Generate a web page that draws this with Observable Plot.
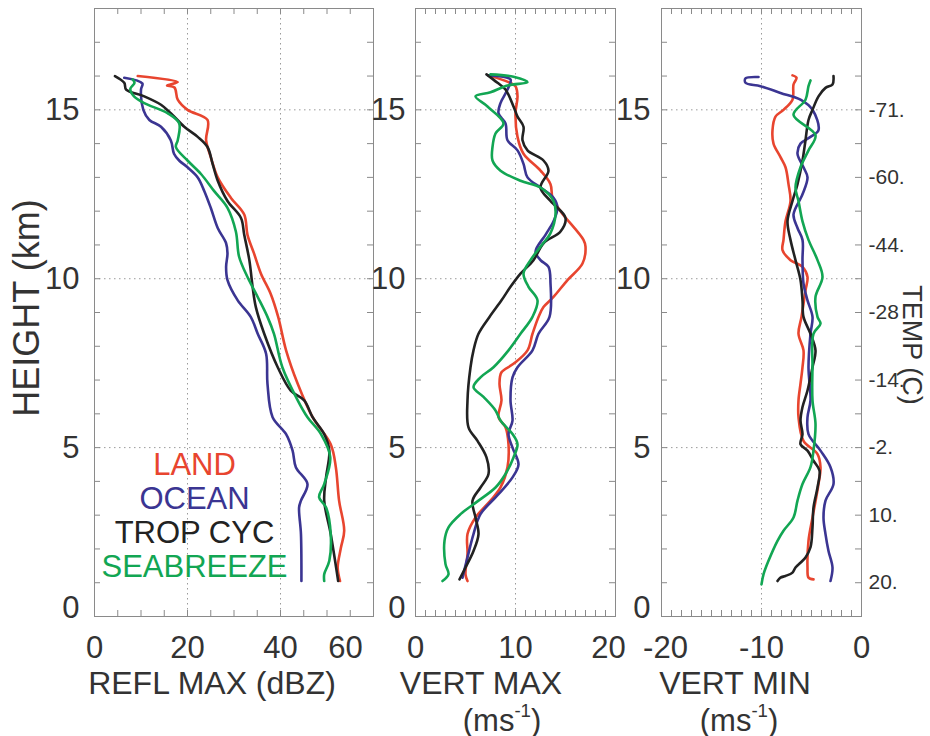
<!DOCTYPE html>
<html>
<head>
<meta charset="utf-8">
<script src="https://cdn.jsdelivr.net/npm/d3@7"></script>
<script src="https://cdn.jsdelivr.net/npm/@observablehq/plot@0.6"></script>
<style>
  html, body { margin: 0; padding: 0; background: #fff; }
  #fig { position: relative; width: 930px; height: 736px; overflow: hidden;
         font-family: "Liberation Sans", Arial, sans-serif; color: #333; }
  #fig svg { position: absolute; top: 0; }
  .lbl { position: absolute; white-space: nowrap; line-height: 1;
         transform: translate(-50%, -50%); }
  .sup { font-size: 0.6em; position: relative; top: -0.75em; }
</style>
</head>
<body>
<div id="fig"></div>
<script>
// Series names, in drawing order
const seriesNames = ["LAND", "OCEAN", "TROP CYC", "SEABREEZE"];

// Maximum reflectivity profiles: [height km, dBZ]
const reflLand = [[16.0, 9.3], [15.82, 17.9], [15.72, 15.6], [15.66, 17.2], [15.3, 17.9], [15.0, 20.0], [14.7, 24.3], [14.1, 24.0], [13.6, 25.0], [13.0, 26.5], [12.4, 29.3], [11.9, 32.2], [11.3, 32.9], [10.75, 34.3], [10.15, 35.8], [9.55, 37.9], [8.87, 39.5], [7.88, 41.2], [6.89, 43.7], [5.9, 46.9], [5.1, 50.8], [4.42, 51.9], [3.43, 52.6], [2.54, 53.7], [2.04, 53.0], [1.45, 52.3], [1.05, 52.8]];
const reflOcean = [[15.95, 6.4], [15.78, 10.3], [15.6, 10.0], [15.0, 10.5], [14.7, 11.8], [14.5, 14.3], [14.1, 16.4], [13.7, 17.1], [13.5, 18.2], [13.3, 20.0], [13.0, 22.2], [12.6, 23.6], [12.1, 25.0], [11.5, 26.5], [11.05, 28.3], [10.75, 28.6], [10.35, 28.3], [9.96, 28.6], [9.36, 30.8], [8.87, 33.6], [8.37, 35.1], [7.78, 36.9], [6.89, 37.2], [5.9, 38.3], [5.4, 41.2], [4.91, 42.6], [4.42, 43.3], [3.92, 45.8], [3.43, 44.4], [3.23, 44.0], [2.44, 44.4], [1.05, 44.5]];
const reflTropCyc = [[16.0, 4.4], [15.8, 6.4], [15.6, 6.8], [15.4, 10.7], [15.15, 14.3], [14.9, 16.4], [14.5, 19.3], [14.2, 22.2], [13.9, 24.3], [13.4, 25.4], [12.9, 26.5], [12.3, 28.6], [11.8, 31.5], [11.3, 32.2], [10.55, 33.3], [9.76, 34.0], [9.16, 34.7], [8.37, 36.5], [7.38, 39.4], [6.69, 42.2], [6.4, 45.1], [5.9, 46.9], [5.4, 49.4], [4.91, 50.5], [4.12, 49.8], [3.43, 49.4], [2.44, 50.8], [1.05, 52.4]];
const reflSeabreeze = [[15.9, 8.2], [15.8, 8.6], [15.62, 7.7], [15.4, 8.5], [15.2, 10.7], [14.9, 15.7], [14.6, 18.2], [14.1, 17.9], [13.9, 17.5], [13.5, 20.0], [13.1, 22.9], [12.6, 25.7], [12.1, 28.6], [11.4, 30.4], [10.65, 31.1], [10.05, 32.9], [9.46, 35.1], [8.87, 37.2], [8.37, 38.6], [7.38, 40.4], [6.4, 43.7], [5.9, 45.8], [5.4, 48.7], [4.71, 50.7], [3.92, 49.4], [3.53, 48.3], [3.23, 49.8], [2.44, 50.8], [1.65, 50.5], [1.25, 49.4], [1.05, 49.4]];

// Maximum vertical velocity profiles: [height km, m/s]
const wmaxLand = [[16.02, 7.3], [15.82, 9.3], [15.7, 10.0], [15.4, 10.2], [14.9, 10.0], [14.2, 10.2], [13.7, 10.8], [13.2, 12.5], [12.8, 13.5], [12.4, 13.7], [12.0, 14.5], [11.15, 16.8], [10.95, 17.0], [10.45, 16.7], [9.96, 15.2], [9.46, 13.8], [9.16, 12.8], [8.87, 12.3], [8.37, 11.7], [7.88, 11.2], [7.48, 9.8], [7.23, 8.6], [6.89, 8.4], [6.4, 8.6], [5.9, 8.3], [5.6, 9.0], [5.1, 9.3], [4.42, 9.2], [3.82, 8.5], [3.43, 7.5], [2.93, 6.0], [2.44, 5.2], [1.85, 5.2], [1.25, 5.0], [1.05, 5.2]];
const wmaxOcean = [[16.02, 7.3], [15.9, 9.5], [15.6, 9.2], [15.2, 8.5], [14.9, 8.3], [14.6, 9.0], [14.1, 9.2], [13.8, 10.2], [13.4, 10.8], [13.0, 11.2], [12.7, 12.5], [12.4, 13.8], [12.1, 14.2], [11.7, 13.8], [11.3, 13.0], [10.8, 12.0], [10.55, 12.5], [10.35, 13.3], [9.86, 13.5], [8.87, 13.4], [8.37, 12.3], [7.88, 11.7], [7.38, 10.2], [7.08, 9.7], [6.4, 9.5], [5.8, 9.7], [5.4, 9.3], [5.0, 9.7], [4.5, 10.3], [4.12, 9.7], [3.62, 8.3], [3.03, 6.5], [2.44, 5.8], [1.75, 5.2], [1.15, 4.7]];
const wmaxTropCyc = [[16.05, 7.1], [15.8, 8.2], [15.6, 9.0], [15.1, 9.8], [14.8, 10.2], [14.5, 10.8], [14.1, 10.7], [13.8, 11.2], [13.5, 12.8], [13.2, 13.3], [12.7, 12.5], [12.3, 13.5], [11.8, 15.0], [11.4, 14.5], [11.05, 12.8], [10.55, 11.8], [10.15, 10.5], [9.76, 9.5], [9.36, 8.6], [8.87, 7.4], [8.37, 6.3], [7.88, 5.8], [7.38, 5.5], [6.4, 5.2], [5.6, 5.3], [5.2, 6.2], [4.71, 7.1], [4.22, 7.3], [3.82, 6.5], [3.43, 5.7], [2.93, 6.0], [2.44, 6.3], [1.94, 5.8], [1.45, 5.0], [1.1, 4.4]];
const wmaxSeabreeze = [[16.05, 7.5], [15.98, 9.8], [15.82, 11.2], [15.72, 9.2], [15.52, 7.5], [15.4, 6.0], [15.1, 7.2], [14.6, 8.8], [14.3, 8.0], [13.9, 7.7], [13.5, 7.7], [13.2, 8.5], [12.9, 10.5], [12.7, 12.5], [12.3, 13.8], [11.9, 14.0], [11.35, 13.5], [10.95, 12.5], [10.55, 11.5], [10.15, 10.8], [9.76, 11.3], [9.36, 12.2], [8.87, 11.7], [8.37, 10.5], [7.88, 9.3], [7.38, 7.8], [7.08, 6.5], [6.79, 5.8], [6.5, 6.8], [6.1, 8.0], [5.8, 8.5], [5.4, 9.7], [5.1, 10.2], [4.71, 9.8], [4.22, 9.0], [3.82, 8.0], [3.43, 6.3], [3.03, 4.5], [2.64, 3.3], [2.24, 2.9], [1.55, 3.0], [1.25, 3.3], [1.05, 2.7]];

// Minimum vertical velocity profiles: [height km, m/s]
const wminLand = [[16.02, -6.9], [15.95, -6.5], [15.75, -6.8], [15.3, -6.9], [15.0, -7.8], [14.8, -8.6], [14.4, -8.9], [14.0, -8.8], [13.6, -8.1], [13.3, -7.6], [12.8, -7.3], [12.3, -7.1], [11.7, -7.6], [11.15, -7.8], [10.85, -7.9], [10.55, -7.1], [10.35, -5.9], [10.05, -5.4], [9.66, -5.6], [8.87, -6.0], [8.37, -6.3], [7.88, -5.8], [7.38, -5.9], [6.89, -6.1], [6.4, -6.3], [5.9, -6.3], [5.2, -5.8], [4.81, -4.4], [4.42, -4.1], [3.92, -4.3], [2.93, -4.9], [2.24, -5.3], [1.45, -5.4], [1.15, -5.3], [1.1, -4.8]];
const wminOcean = [[15.97, -10.3], [15.93, -11.6], [15.8, -11.6], [15.7, -10.1], [15.5, -8.1], [15.3, -6.1], [15.0, -4.9], [14.4, -4.3], [14.2, -5.1], [14.0, -6.1], [13.7, -6.4], [13.3, -5.8], [13.0, -5.4], [12.5, -5.9], [11.9, -6.8], [11.5, -6.4], [11.15, -5.9], [10.55, -5.9], [9.86, -5.8], [9.36, -5.4], [8.87, -4.9], [8.37, -5.1], [7.38, -5.3], [6.4, -5.1], [5.9, -5.4], [5.4, -5.3], [4.91, -4.1], [4.42, -3.1], [3.92, -2.8], [3.43, -3.6], [2.93, -3.8], [2.44, -3.6], [1.94, -3.3], [1.45, -2.9], [1.05, -3.1]];
const wminTropCyc = [[16.0, -2.8], [15.75, -2.9], [15.65, -3.6], [15.4, -4.3], [15.0, -4.9], [14.7, -5.3], [14.1, -5.6], [13.5, -5.9], [12.8, -6.4], [12.3, -6.9], [11.7, -7.4], [11.15, -7.1], [10.55, -6.6], [9.96, -6.1], [9.36, -5.9], [8.87, -5.8], [8.37, -5.1], [7.88, -4.6], [7.38, -4.9], [6.69, -5.4], [6.2, -5.9], [5.8, -6.1], [5.4, -5.9], [5.1, -6.1], [4.91, -5.4], [4.61, -4.8], [4.32, -4.2], [3.82, -4.4], [3.23, -4.8], [2.64, -4.9], [2.05, -5.1], [1.75, -5.6], [1.45, -6.6], [1.3, -6.9], [1.2, -7.6], [1.15, -8.1], [1.05, -8.4]];
const wminSeabreeze = [[15.87, -5.1], [15.7, -5.3], [15.3, -5.6], [14.85, -6.8], [14.25, -4.6], [13.8, -5.3], [13.3, -6.1], [12.7, -6.6], [12.3, -6.3], [11.7, -5.9], [11.15, -5.3], [10.55, -4.4], [10.05, -3.9], [9.46, -4.6], [8.87, -4.4], [8.67, -4.1], [8.37, -4.8], [7.38, -4.9], [6.4, -4.9], [5.7, -4.6], [4.91, -4.8], [4.42, -5.1], [3.92, -5.9], [3.43, -6.4], [2.93, -6.8], [2.54, -7.8], [2.24, -8.4], [1.65, -9.3], [1.25, -9.8], [0.95, -10.0]];

// Axis ticks and labels
const heightDomain = [0, 18];
const heightTicks = [0, 5, 10, 15];
const reflTicks = [0, 20, 40, 60];
const wmaxTicks = [0, 10, 20];
const wminTicks = [-20, -10, 0];
const tempHeights = [15, 13, 11, 9, 7, 5, 3, 1];
const tempLabels = ["-71.", "-60.", "-44.", "-28", "-14.", "-2.", "10.", "20."];

// Styling
const seriesColors = ["#e8452f", "#3b3592", "#222222", "#12a653"];
const axisGray = "#8a8a8a";
const FONT = "Liberation Sans, Arial, sans-serif";
const H = 736, MT = 8, MB = 120;
const plain = d => `${d}`; // keep ASCII hyphen for negative numbers

function panel({left, width, marginLeft, marginRight, domain, ticks, minorStep,
                series, yPad, lastDx = 0, firstDx = 0, extra = []}) {
  const fw = width - marginLeft - marginRight;
  const fh = H - MT - MB;
  const tickLen = 6;
  const minorX = d3.range(domain[0], domain[1] + 1e-9, minorStep);
  const minorY = d3.range(heightDomain[0], heightDomain[1] + 1e-9, 1);
  const inner = ticks.slice(1, -1);
  const axisFont = {fontSize: 31, tickSize: 0, label: null, tickFormat: plain};
  const xPad = 19;
  const marks = [
    Plot.gridX(inner, {stroke: "#9a9a9a", strokeOpacity: 1, strokeDasharray: "1.5,3.5"}),
    Plot.gridY(heightTicks.slice(1), {stroke: "#9a9a9a", strokeOpacity: 1, strokeDasharray: "1.5,3.5"}),
    Plot.tickX(minorX, {x: d => d, stroke: axisGray, insetBottom: fh - tickLen}),
    Plot.tickX(minorX, {x: d => d, stroke: axisGray, insetTop: fh - tickLen}),
    Plot.tickY(minorY, {y: d => d, stroke: axisGray, insetRight: fw - tickLen}),
    Plot.tickY(minorY, {y: d => d, stroke: axisGray, insetLeft: fw - tickLen}),
    Plot.frame({stroke: axisGray}),
    // x tick labels (the outermost ones are nudged inward)
    Plot.axisX(inner, {...axisFont, anchor: "bottom", tickPadding: xPad}),
    Plot.axisX([ticks[0]], {...axisFont, anchor: "bottom", tickPadding: xPad, dx: firstDx}),
    Plot.axisX([ticks[ticks.length - 1]], {...axisFont, anchor: "bottom", tickPadding: xPad, dx: lastDx}),
    // height tick labels
    Plot.axisY(heightTicks.slice(1), {...axisFont, anchor: "left", tickPadding: yPad}),
    Plot.axisY([0], {...axisFont, anchor: "left", tickPadding: yPad, dy: -8}),
    ...series.map((s, i) => Plot.line(s, {
      x: d => d[1], y: d => d[0], stroke: seriesColors[i], strokeWidth: 2.6,
      curve: "catmull-rom"
    })),
    ...extra
  ];
  const svg = Plot.plot({
    width, height: H,
    marginLeft, marginRight, marginTop: MT, marginBottom: MB,
    x: {domain, axis: null},
    y: {domain: heightDomain, axis: null},
    style: {background: "transparent", fontFamily: FONT, color: "#333", overflow: "visible"},
    marks
  });
  svg.style.left = left + "px";
  return svg;
}

// Legend: series names stacked in the lower part of the first panel
const legendMarks = seriesNames.map((name, i) => Plot.text([name], {
  text: d => d, frameAnchor: "bottom-left", dx: 100, dy: -40 - 34 * (seriesNames.length - 1 - i),
  textAnchor: "middle", fill: seriesColors[i], fontSize: 31
}));

// Temperature labels on the right of the last panel
const tempMarks = [
  Plot.axisY(tempHeights, {
    anchor: "right", tickSize: 0, tickPadding: 7, fontSize: 21, label: null,
    tickFormat: d => tempLabels[tempHeights.indexOf(d)]
  })
];

const fig = document.getElementById("fig");
fig.append(panel({
  left: 0, width: 380, marginLeft: 94, marginRight: 7,
  domain: [0, 60], ticks: reflTicks, minorStep: 5, yPad: 15, lastDx: -28,
  series: [reflLand, reflOcean, reflTropCyc, reflSeabreeze], extra: legendMarks
}));
fig.append(panel({
  left: 358, width: 262, marginLeft: 57, marginRight: 5,
  domain: [0, 20], ticks: wmaxTicks, minorStep: 1, yPad: 10, lastDx: -7,
  series: [wmaxLand, wmaxOcean, wmaxTropCyc, wmaxSeabreeze]
}));
fig.append(panel({
  left: 600, width: 330, marginLeft: 61, marginRight: 69,
  domain: [-20, 0], ticks: wminTicks, minorStep: 1, yPad: 11, firstDx: 4,
  series: [wminLand, wminOcean, wminTropCyc, wminSeabreeze], extra: tempMarks
}));

// Axis titles
const titles = [
  {html: "REFL MAX (dBZ)", x: 212, y: 683, size: 32},
  {html: "VERT MAX", x: 481, y: 683, size: 32},
  {html: "(ms<span class='sup'>-1</span>)", x: 502, y: 720, size: 31},
  {html: "VERT MIN", x: 735, y: 683, size: 32},
  {html: "(ms<span class='sup'>-1</span>)", x: 739, y: 720, size: 31},
  {html: "HEIGHT (km)", x: 27, y: 308, size: 36, rotate: -90},
  {html: "TEMP (C)", x: 911, y: 345, size: 27, rotate: 90}
];
for (const t of titles) {
  const el = document.createElement("div");
  el.className = "lbl";
  el.innerHTML = t.html;
  el.style.left = t.x + "px";
  el.style.top = t.y + "px";
  el.style.fontSize = t.size + "px";
  if (t.rotate) el.style.transform = `translate(-50%, -50%) rotate(${t.rotate}deg)`;
  fig.append(el);
}
</script>
</body>
</html>
